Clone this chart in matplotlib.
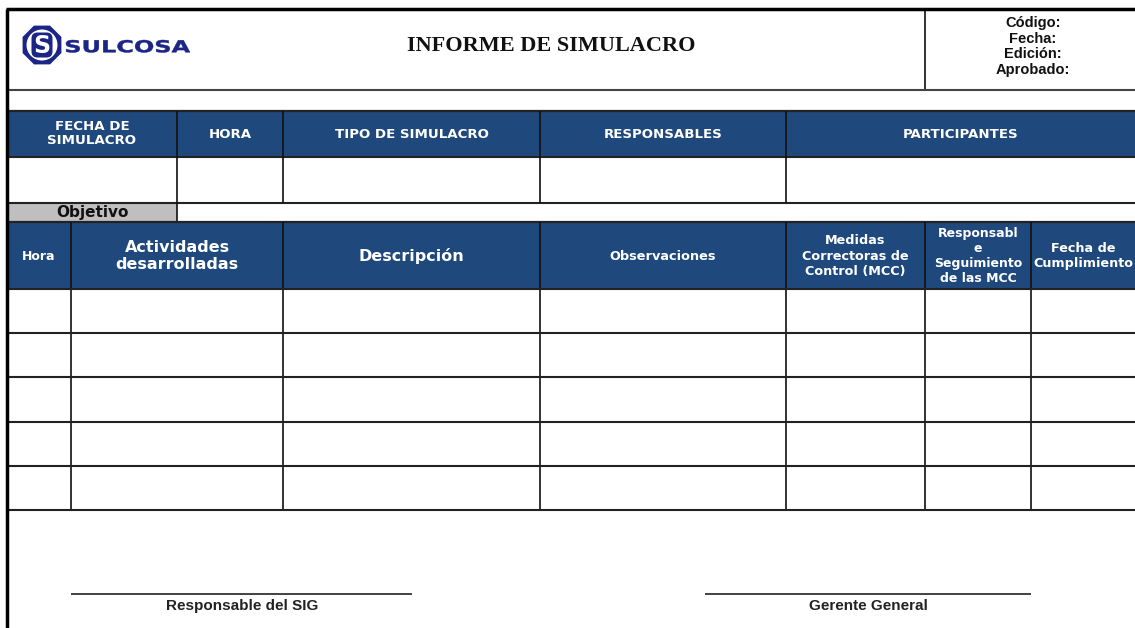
import matplotlib
matplotlib.use("Agg")
import matplotlib.pyplot as plt
from matplotlib.patches import Rectangle, Circle, RegularPolygon, FancyBboxPatch, PathPatch
from matplotlib.textpath import TextPath
from matplotlib.font_manager import FontProperties
from matplotlib.transforms import Affine2D

# form content
company = "SULCOSA"
title = "INFORME DE SIMULACRO"
doc_fields = ["Código:", "Fecha:", "Edición:", "Aprobado:"]
head1_labels = ["FECHA DE\nSIMULACRO", "HORA", "TIPO DE SIMULACRO", "RESPONSABLES", "PARTICIPANTES"]
objective_label = "Objetivo"
head2_labels = ["Hora", "Actividades\ndesarrolladas", "Descripción", "Observaciones",
                "Medidas\nCorrectoras de\nControl (MCC)", "Responsabl\ne\nSeguimiento\nde las MCC",
                "Fecha de\nCumplimiento"]
head2_sizes = [9, 11.5, 11.5, 9.3, 9.2, 9, 9.2]
n_rows = 5
signatures = ["Responsable del SIG", "Gerente General"]

# layout (pixels)
W, H = 1135, 628
L, T = 7, 9
cols1 = [L, 177, 283, 540, 786, W]
cols2 = [L, 71, 283, 540, 786, 925, 1031, W]
y_head_bot = 90
y_h1 = (111, 157)
y_r1 = 203
y_obj = 222
y_h2 = 289
row_h = 44.2
blue = "#1F497D"
navy = "#1B2585"

fig = plt.figure(figsize=(W / 100, H / 100), dpi=100)
ax = fig.add_axes([0, 0, 1, 1])
ax.set_xlim(0, W)
ax.set_ylim(H, 0)
ax.axis("off")

def hline(y, x0=L, x1=W, lw=1.5, c="#222222"):
    ax.plot([x0, x1], [y, y], color=c, lw=lw, solid_capstyle="butt")

def vline(x, y0, y1, lw=1.2, c="#111111"):
    ax.plot([x, x], [y0, y1], color=c, lw=lw, solid_capstyle="butt")

# blue header fills and gray objetivo cell
ax.add_patch(Rectangle((L, y_h1[0]), W - L, y_h1[1] - y_h1[0], color=blue, lw=0))
ax.add_patch(Rectangle((L, y_obj), W - L, y_h2 - y_obj, color=blue, lw=0))
ax.add_patch(Rectangle((L, y_r1), cols1[1] - L, y_obj - y_r1, color="#BFBFBF", lw=0))

# header block
vline(925, T, y_head_bot)
hline(y_head_bot, lw=1.5, c="#444444")

# logo
cx, cy = 42, 45
ax.add_patch(RegularPolygon((cx, cy), 8, radius=21, orientation=0.39, color=navy, lw=0))
ax.add_patch(Circle((cx, cy), 15.5, color="white", lw=0))
ax.add_patch(FancyBboxPatch((cx - 10.5, cy - 12.5), 21, 25, boxstyle="round,pad=0,rounding_size=6",
                            color=navy, lw=0))
ax.text(cx, cy + 1, "S", color="white", fontsize=17, fontweight="bold", ha="center", va="center")

# wide company lettering, stretched to the logo box
tp = TextPath((0, 0), company, size=12, prop=FontProperties(family="DejaVu Sans", weight="heavy"))
bb = tp.get_extents()
sx = 124 / bb.width
sy = 12.5 / bb.height
tr = Affine2D().translate(-bb.x0, -bb.y0).scale(sx, -sy).translate(66, 52.5) + ax.transData
ax.add_patch(PathPatch(tp, color=navy, lw=0.3, transform=tr))

ax.text(551, 46, title, fontsize=16, fontweight="bold", family="Liberation Serif",
        ha="center", va="center", color="#111111")
for i, f in enumerate(doc_fields):
    ax.text(1033, 23 + i * 15.6, f, fontsize=10.5, fontweight="bold", family="Liberation Sans",
            ha="center", va="center", color="#111111")

# first table
hline(y_h1[0], lw=1.6)
hline(y_h1[1])
hline(y_r1)
for x in cols1[1:-1]:
    vline(x, y_h1[0], y_r1)
for i, lab in enumerate(head1_labels):
    xm = (cols1[i] + cols1[i + 1]) / 2
    ax.text(xm, (y_h1[0] + y_h1[1]) / 2, lab, color="white", fontsize=9.6, fontweight="bold",
            ha="center", va="center", linespacing=1.1)

# objetivo row
vline(cols1[1], y_r1, y_obj)
ax.text((L + cols1[1]) / 2, (y_r1 + y_obj) / 2 + 0.5, objective_label, fontsize=11,
        fontweight="bold", ha="center", va="center", color="#111111")
hline(y_obj, lw=1.6)

# second table
row_edges = [y_h2 + k * row_h for k in range(n_rows + 1)]
for x in cols2[1:-1]:
    vline(x, y_obj, row_edges[-1])
for i, lab in enumerate(head2_labels):
    xm = (cols2[i] + cols2[i + 1]) / 2
    ax.text(xm, (y_obj + y_h2) / 2 + 0.5, lab, color="white", fontsize=head2_sizes[i],
            fontweight="bold", ha="center", va="center", linespacing=1.2)
for y in row_edges:
    hline(y)

# signatures
hline(594, 71, 412, lw=1.3, c="#333333")
hline(594, 705, 1031, lw=1.3, c="#333333")
ax.text(242, 606, signatures[0], fontsize=11, fontweight="bold", family="Liberation Sans",
        ha="center", va="center", color="#222222")
ax.text(868, 606, signatures[1], fontsize=11, fontweight="bold", family="Liberation Sans",
        ha="center", va="center", color="#222222")

# outer border
ax.plot([L, L], [T, H], color="black", lw=2.5, solid_capstyle="butt")
ax.plot([L - 1, W], [T, T], color="black", lw=2.5, solid_capstyle="butt")

fig.savefig("out.png", dpi=100, facecolor="white")
